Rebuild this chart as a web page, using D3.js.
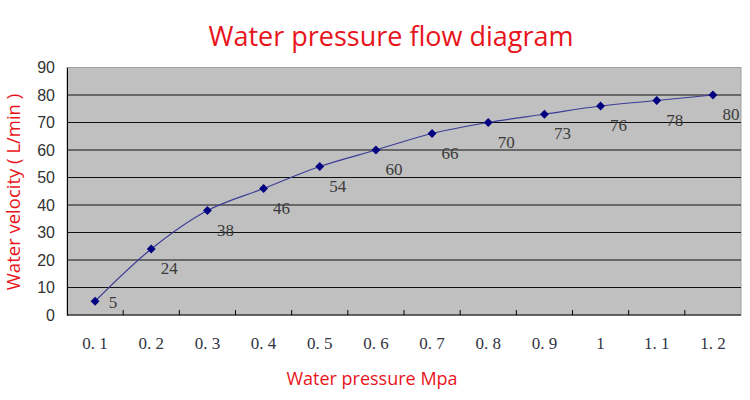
<!DOCTYPE html>
<html><head><meta charset="utf-8">
<script src="https://cdn.jsdelivr.net/npm/d3@7"></script>
<style>body{margin:0;background:#fff}</style>
</head><body>
<svg id="c" width="750" height="400"></svg>
<script>
const categories = ["0.1","0.2","0.3","0.4","0.5","0.6","0.7","0.8","0.9","1","1.1","1.2"];
const tickLabels = ["0. 1","0. 2","0. 3","0. 4","0. 5","0. 6","0. 7","0. 8","0. 9","1","1. 1","1. 2"];
const velocity = [5,24,38,46,54,60,66,70,73,76,78,80];
const yTicks = [0,10,20,30,40,50,60,70,80,90];

const svg = d3.select("#c");
const m = {l:67, r:741, t:67.5, b:315};
const x = d3.scaleBand().domain(categories).range([m.l, m.r]);
const y = d3.scaleLinear().domain([0,90]).range([m.b, m.t]);

// plot background
svg.append("rect").attr("x",m.l).attr("y",m.t).attr("width",m.r-m.l).attr("height",m.b-m.t)
  .attr("fill","#c0c0c0").attr("stroke","#a0a0a0").attr("stroke-width",1);

// gridlines
svg.append("g").selectAll("line").data(yTicks.filter(d=>d>0&&d<90)).join("line")
  .attr("x1",m.l).attr("x2",m.r).attr("y1",d=>y(d)).attr("y2",d=>y(d))
  .attr("stroke","#111").attr("stroke-width",1.1);

// y axis
const ya = svg.append("g").attr("transform",`translate(${m.l},0)`)
  .call(d3.axisLeft(y).tickValues(yTicks).tickSize(0).tickPadding(12));
ya.select(".domain").attr("stroke","#000");
ya.selectAll("text").attr("font-family","Liberation Sans, Arial, sans-serif").attr("font-size",16).attr("fill","#333");

// x axis
const xa = svg.append("g").attr("transform",`translate(0,${m.b})`)
  .call(d3.axisBottom(x).tickFormat((d,i)=>tickLabels[i]).tickSize(0).tickPadding(22));
xa.select(".domain").attr("stroke","#000").attr("d",`M${m.l},0H${m.r}`);
xa.selectAll("text").attr("font-family","Liberation Serif, DejaVu Serif, serif").attr("font-size",17).attr("fill","#334");
// tick marks at category boundaries (pointing up)
svg.append("g").selectAll("line").data(categories.slice(1)).join("line")
  .attr("x1",d=>x(d)).attr("x2",d=>x(d)).attr("y1",m.b).attr("y2",m.b-5)
  .attr("stroke","#000");

// line
const cx = d => x(d) + x.bandwidth()/2;
const line = d3.line().x((d,i)=>cx(categories[i])).y(d=>y(d)).curve(d3.curveCatmullRom.alpha(0.5));
svg.append("path").datum(velocity).attr("d",line).attr("fill","none")
  .attr("stroke","#3c3c96").attr("stroke-width",1.2);

// markers
svg.append("g").selectAll("path").data(velocity).join("path")
  .attr("d",d3.symbol(d3.symbolDiamond2,50))
  .attr("transform",(d,i)=>`translate(${cx(categories[i])},${y(d)})`)
  .attr("fill","#000080");

// data labels
svg.append("g").selectAll("text").data(velocity).join("text")
  .attr("x",(d,i)=>cx(categories[i])+18).attr("y",(d,i)=>y(d)+ (i===0?7:25))
  .attr("text-anchor","middle")
  .attr("font-family","Liberation Serif, DejaVu Serif, serif").attr("font-size",17).attr("fill","#3a3a3a")
  .text(d=>d);

// titles
svg.append("text").attr("x",391).attr("y",46).attr("text-anchor","middle")
  .attr("font-family","Open Sans, Noto Sans, sans-serif").attr("font-size",27).attr("fill","#e8141c")
  .text("Water pressure flow diagram");
svg.append("text").attr("x",372).attr("y",385).attr("text-anchor","middle")
  .attr("font-family","Open Sans, Noto Sans, sans-serif").attr("font-size",18).attr("fill","#e8141c")
  .text("Water pressure Mpa");
svg.append("text").attr("transform","translate(20,192) rotate(-90)").attr("text-anchor","middle")
  .attr("font-family","Open Sans, Noto Sans, sans-serif").attr("font-size",18.5).attr("fill","#e8141c")
  .text("Water velocity ( L/min )");
</script>
</body></html>
